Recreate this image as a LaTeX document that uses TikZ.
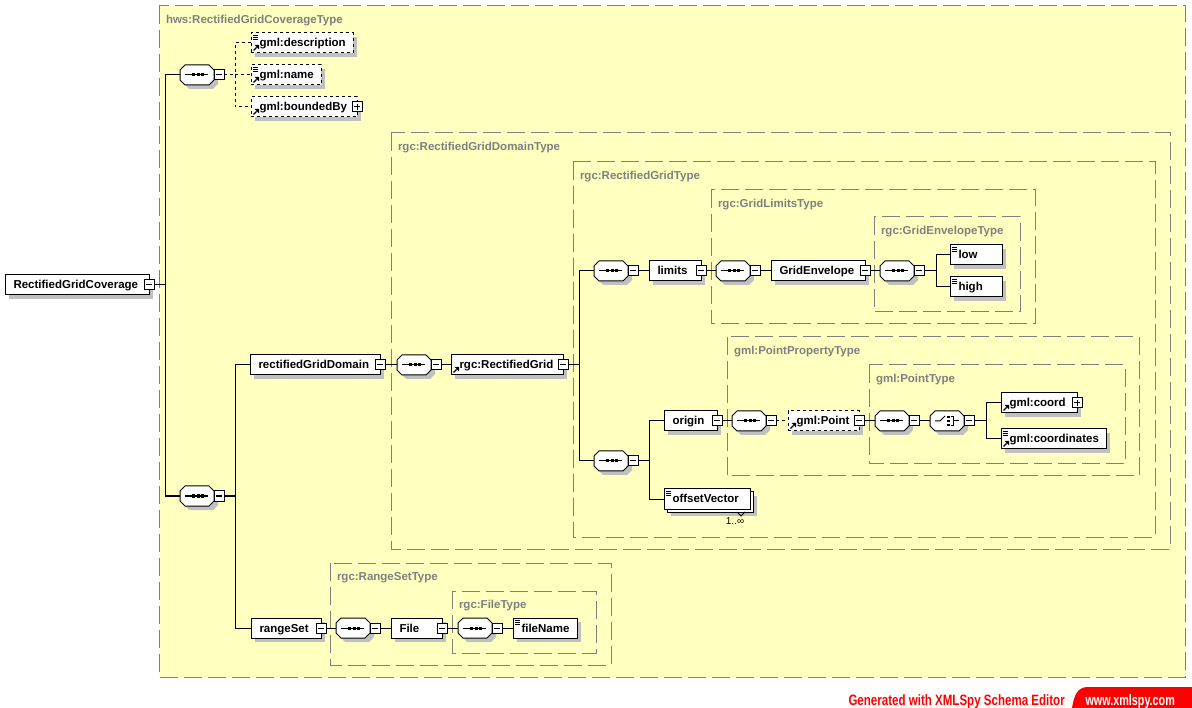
\documentclass[tikz,border=0pt]{standalone}
\usepackage{fontspec}
\setmainfont{Liberation Sans}
\usepackage{graphicx}
\definecolor{typegray}{RGB}{128,128,128}
\definecolor{typefill}{RGB}{255,255,192}
\definecolor{shadowc}{RGB}{192,192,192}
\definecolor{footred}{RGB}{255,0,0}

% element box: [options] name, left x, right x, centre y, text
\newcommand\elbox[6][]{%
  \pgfmathsetmacro\elw{#4-#3-17}%
  \node[elem,#1] (#2) at (#3,#5) {\makebox[\elw pt][l]{#6}};}
% "simple content" mark in the top left corner of a box
\newcommand\simpicon[1]{%
  \foreach \yy in {2.5,4.5,6.5}{\draw[line width=0.9pt] ([shift={(2,\yy)}]#1.north west) -- ++(5,0);}}
% reference arrow in the bottom left corner of a box
\newcommand\reficon[1]{%
  \draw[line width=1.3pt] ([shift={(2.5,-2.5)}]#1.south west) -- ++(3,-3);
  \fill ([shift={(8,-8)}]#1.south west) -- ++(-4.5,0) -- ++(4.5,4.5) -- cycle;}
% octagonal compositor outline with its shadow
\newcommand\octshape[2]{%
  \fill[shadowc] ({#1+9},{#2-6}) -- ({#1+33},{#2-6}) -- ({#1+38},{#2-1}) -- ({#1+38},{#2+9}) -- ({#1+33},{#2+14}) -- ({#1+9},{#2+14}) -- ({#1+4},{#2+9}) -- ({#1+4},{#2-1}) -- cycle;
  \draw[fill=white] ({#1+5},{#2-10}) -- ({#1+29},{#2-10}) -- ({#1+34},{#2-5}) -- ({#1+34},{#2+5}) -- ({#1+29},{#2+10}) -- ({#1+5},{#2+10}) -- (#1,{#2+5}) -- (#1,{#2-5}) -- cycle;}
% sequence compositor: name, left x, centre y
\newcommand\seqnode[3]{%
  \octshape{#2}{#3}
  \node[octnode] (#1) at ({#2+17},#3) {};
  \draw ({#2+5},#3) -- ({#2+28},#3);
  \foreach \dx in {12,16.5,21}{\fill ({#2+\dx},{#3-1.5}) rectangle ++(3,3);}
  \node[minusbox] (#1m) at ({#2+39},#3) {};}
% choice compositor: name, left x, centre y
\newcommand\choicenode[3]{%
  \octshape{#2}{#3}
  \node[octnode] (#1) at ({#2+17},#3) {};
  \draw ({#2+5},#3) -- ({#2+10},#3) -- ({#2+15},{#3-5});
  \foreach \dy in {-5,-1,3}{\fill ({#2+16.5},{#3+\dy}) rectangle ++(3,2);}
  \draw ({#2+20.5},{#3-4.5}) -- ({#2+23.5},{#3-4.5}) -- ({#2+23.5},{#3+4.5}) -- ({#2+20.5},{#3+4.5});
  \draw ({#2+23.5},#3) -- ({#2+29},#3);
  \node[minusbox] (#1m) at ({#2+39},#3) {};}

\begin{document}
\begin{tikzpicture}[x=1pt,y=-1pt,line width=1pt,
  every node/.style={font=\fontsize{11.5}{13}\selectfont\bfseries},
  shadowed/.style={preaction={draw=none,fill=shadowc,transform canvas={shift={(4pt,-4pt)}}}},
  elembase/.style={draw,fill=white,anchor=west,inner xsep=8.5pt,inner ysep=6pt,
    text height=8pt,text depth=0pt,minimum height=20pt,outer sep=0pt},
  elem/.style={elembase,shadowed},
  opt/.style={dash pattern=on 3pt off 3pt},
  optline/.style={dash pattern=on 3pt off 3pt},
  typebox/.style={draw=typegray,fill=typefill,dash pattern=on 18pt off 6pt},
  typelabel/.style={anchor=base west,text=typegray,inner sep=0pt},
  octnode/.style={minimum width=34pt,minimum height=20pt,inner sep=0pt,outer sep=0pt},
  minusbox/.style={draw,fill=white,minimum width=10pt,minimum height=10pt,inner sep=0pt,outer sep=0pt,
    path picture={\draw ([xshift=2pt]path picture bounding box.west) -- ([xshift=-2pt]path picture bounding box.east);}},
  plusbox/.style={minusbox,
    path picture={\draw ([xshift=2pt]path picture bounding box.west) -- ([xshift=-2pt]path picture bounding box.east);
                  \draw ([yshift=-2pt]path picture bounding box.north) -- ([yshift=2pt]path picture bounding box.south);}}]

\useasboundingbox (0,0) rectangle (1192,708);
\fill[white] (0,0) rectangle (1192,708);

% nested type containers
\draw[typebox] (159,6) rectangle (1185,677);
\node[typelabel] (tA) at (165.5,23.5) {hws:RectifiedGridCoverageType};
\draw[typebox] (391,133) rectangle (1170,549);
\node[typelabel] (tB) at (397.5,151) {rgc:RectifiedGridDomainType};
\draw[typebox] (573,162) rectangle (1155,537);
\node[typelabel] (tC) at (579.5,179.5) {rgc:RectifiedGridType};
\draw[typebox] (711,190) rectangle (1035,324);
\node[typelabel] (tD) at (717.5,207.5) {rgc:GridLimitsType};
\draw[typebox] (874,217) rectangle (1020,312);
\node[typelabel] (tE) at (880.5,234.5) {rgc:GridEnvelopeType};
\draw[typebox] (727,337) rectangle (1139,476);
\node[typelabel] (tF) at (733.5,354.5) {gml:PointPropertyType};
\draw[typebox] (869,365) rectangle (1125,464);
\node[typelabel] (tG) at (875.5,382.5) {gml:PointType};
\draw[typebox] (330,563) rectangle (611,665);
\node[typelabel] (tH) at (336.5,580.5) {rgc:RangeSetType};
\draw[typebox] (452,591) rectangle (596,653);
\node[typelabel] (tI) at (458.5,608.5) {rgc:FileType};

% root element
\elbox{rgc}{5}{149}{285}{RectifiedGridCoverage}
\node[minusbox] (rgcm) at (rgc.east) {};

% compositors
\seqnode{s1}{180}{75}
\seqnode{s2}{180}{496}
\seqnode{s3}{397}{365}
\seqnode{s4}{594}{271}
\seqnode{s5}{716}{271}
\seqnode{s6}{880}{271}
\seqnode{s7}{594}{461}
\seqnode{s8}{732}{421}
\seqnode{s9}{875}{421}
\choicenode{c1}{930}{421}
\seqnode{s10}{336}{628}
\seqnode{s11}{458}{628}

% elements
\elbox[opt]{desc}{251}{353}{43}{gml:description}
\simpicon{desc}\reficon{desc}
\elbox[opt]{gname}{251}{321}{75}{gml:name}
\simpicon{gname}\reficon{gname}
\elbox[opt]{bby}{251}{357}{107}{gml:boundedBy}
\reficon{bby}
\node[plusbox] (bbyp) at (bby.east) {};

\elbox{rgd}{250}{380}{365}{rectifiedGridDomain}
\node[minusbox] (rgdm) at (rgd.east) {};
\elbox{rgrid}{451}{563}{365}{rgc:RectifiedGrid}
\reficon{rgrid}
\node[minusbox] (rgridm) at (rgrid.east) {};

\elbox{limits}{649}{701}{271}{limits}
\node[minusbox] (limitsm) at (limits.east) {};
\elbox{genv}{771}{865}{271}{GridEnvelope}
\node[minusbox] (genvm) at (genv.east) {};
\elbox{low}{950}{1002}{255}{low}
\simpicon{low}
\elbox{high}{950}{1002}{287}{high}
\simpicon{high}

\elbox{origin}{664}{717}{421}{origin}
\node[minusbox] (originm) at (origin.east) {};
\elbox[opt]{point}{788}{859}{421}{gml:Point}
\reficon{point}
\node[minusbox] (pointm) at (point.east) {};
\elbox{coord}{1001}{1077}{403}{gml:coord}
\reficon{coord}
\node[plusbox] (coordp) at (coord.east) {};
\elbox{coords}{1001}{1106}{439}{gml:coordinates}
\simpicon{coords}\reficon{coords}

% repeated element: a second box behind the first
\node[elem,minimum width=86pt] (ovback) at (667,502) {};
\draw (737,512) -- (741,516) -- (745,512);
\node[elembase] (offv) at (664,499) {\makebox[69pt][l]{offsetVector}};
\simpicon{offv}
\node[font=\fontsize{10}{12}\selectfont,anchor=base,inner sep=0pt] (ovcard) at (735,525) {1..∞};

\elbox{rset}{251}{321}{628}{rangeSet}
\node[minusbox] (rsetm) at (rset.east) {};
\elbox{file}{391}{442}{628}{File}
\node[minusbox] (filem) at (file.east) {};
\elbox{fname}{513}{577}{628}{fileName}
\simpicon{fname}

% connectors
\coordinate (busA) at (165,0);
\draw (rgcm.east) -- (busA |- rgcm.east);
\draw (s1.west) -- (busA |- s1.west) -- (busA |- s2.west) -- (s2.west);

\coordinate (busB) at (235,0);
\draw[optline] (s1m.east) -- (busB |- s1m.east);
\draw[optline] (desc.west) -- (busB |- desc.west) -- (busB |- bby.west) -- (bby.west);
\draw[optline] (busB |- gname.west) -- (gname.west);
\draw (s2m.east) -- (busB |- s2m.east);
\draw (rgd.west) -- (busB |- rgd.west) -- (busB |- rset.west) -- (rset.west);

\draw (rgdm.east) -- (s3.west);
\draw (s3m.east) -- (rgrid.west);
\coordinate (busC) at (579,0);
\draw (rgridm.east) -- (busC |- rgridm.east);
\draw (s4.west) -- (busC |- s4.west) -- (busC |- s7.west) -- (s7.west);
\draw (s4m.east) -- (limits.west);
\draw (limitsm.east) -- (s5.west);
\draw (s5m.east) -- (genv.west);
\draw (genvm.east) -- (s6.west);
\coordinate (busD) at (936,0);
\draw (s6m.east) -- (busD |- s6m.east);
\draw (low.west) -- (busD |- low.west) -- (busD |- high.west) -- (high.west);

\coordinate (busE) at (649,0);
\draw (s7m.east) -- (busE |- s7m.east);
\draw (origin.west) -- (busE |- origin.west) -- (busE |- offv.west) -- (offv.west);
\draw (originm.east) -- (s8.west);
\draw[optline] (s8m.east) -- (point.west);
\draw (pointm.east) -- (s9.west);
\draw (s9m.east) -- (c1.west);
\coordinate (busF) at (986,0);
\draw (c1m.east) -- (busF |- c1m.east);
\draw (coord.west) -- (busF |- coord.west) -- (busF |- coords.west) -- (coords.west);

\draw (rsetm.east) -- (s10.west);
\draw (s10m.east) -- (file.west);
\draw (filem.east) -- (s11.west);
\draw (s11m.east) -- (fname.west);

% footer
\node[anchor=base west,text=footred,inner sep=0pt,font=\fontsize{15}{15}\selectfont\bfseries] (gen) at (848,705)
  {\scalebox{0.77}[1]{Generated with XMLSpy Schema Editor}};
\fill[footred] (1072,708) .. controls (1074,696) and (1077,687) .. (1088,687) -- (1192,687) -- (1192,708) -- cycle;
\node[anchor=base west,text=white,inner sep=0pt,font=\fontsize{15}{15}\selectfont\bfseries] (web) at (1085,705)
  {\scalebox{0.72}[1]{www.xmlspy.com}};
\end{tikzpicture}
\end{document}
